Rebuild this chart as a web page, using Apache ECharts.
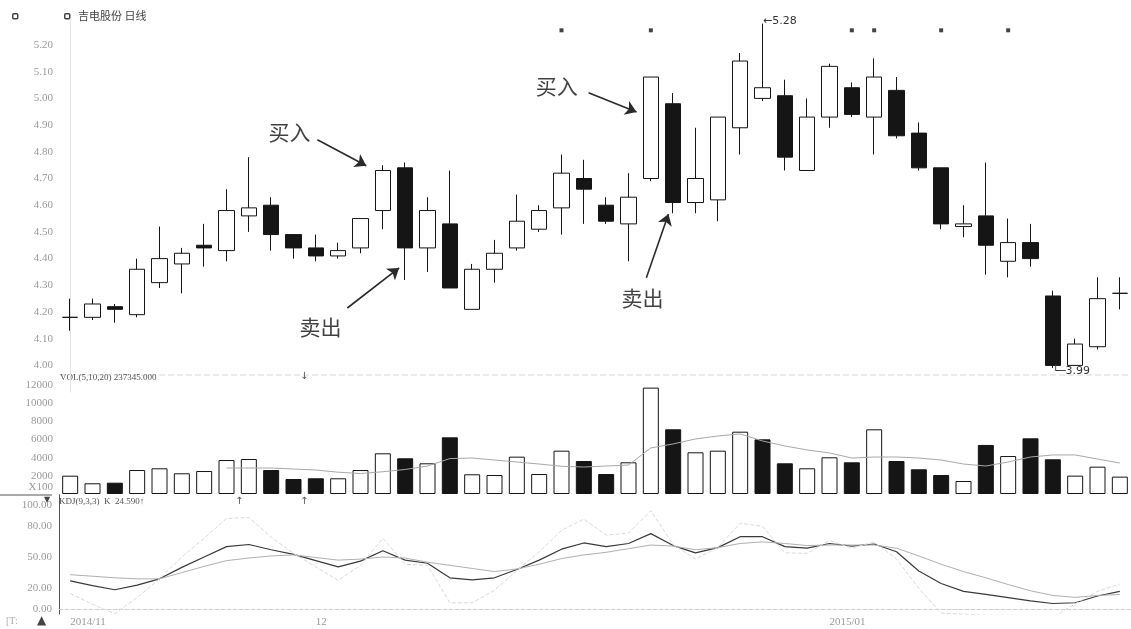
<!DOCTYPE html>
<html>
<head>
<meta charset="utf-8">
<style>
  html, body { margin: 0; padding: 0; background: #fff; }
  #chart { width: 1131px; height: 629px; }
</style>
<script src="https://cdn.jsdelivr.net/npm/echarts@6/dist/echarts.min.js"></script>
</head>
<body>
<div id="chart"></div>
<script>
// 交易日
const dates = [
  '2014-11-14', '2014-11-17', '2014-11-18', '2014-11-19', '2014-11-20', '2014-11-21',
  '2014-11-24', '2014-11-25', '2014-11-26', '2014-11-27', '2014-11-28',
  '2014-12-01', '2014-12-02', '2014-12-03', '2014-12-04', '2014-12-05',
  '2014-12-08', '2014-12-09', '2014-12-10', '2014-12-11', '2014-12-12',
  '2014-12-15', '2014-12-16', '2014-12-17', '2014-12-18', '2014-12-19',
  '2014-12-22', '2014-12-23', '2014-12-24', '2014-12-25', '2014-12-26',
  '2014-12-29', '2014-12-30', '2014-12-31',
  '2015-01-05', '2015-01-06', '2015-01-07', '2015-01-08', '2015-01-09',
  '2015-01-12', '2015-01-13', '2015-01-14', '2015-01-15', '2015-01-16',
  '2015-01-19', '2015-01-20', '2015-01-21', '2015-01-22'
];

// 日线 OHLC
const opens = [4.18, 4.18, 4.22, 4.19, 4.31, 4.38, 4.45, 4.43, 4.56, 4.60, 4.49, 4.44,
  4.41, 4.44, 4.58, 4.74, 4.44, 4.53, 4.21, 4.36, 4.44, 4.51, 4.59, 4.70,
  4.60, 4.53, 4.70, 4.98, 4.61, 4.62, 4.89, 5.00, 5.01, 4.73, 4.93, 5.04,
  4.93, 5.03, 4.87, 4.74, 4.52, 4.56, 4.39, 4.46, 4.26, 4.00, 4.07, 4.27];
const closes = [4.18, 4.23, 4.21, 4.36, 4.40, 4.42, 4.44, 4.58, 4.59, 4.49, 4.44, 4.41,
  4.43, 4.55, 4.73, 4.44, 4.58, 4.29, 4.36, 4.42, 4.54, 4.58, 4.72, 4.66,
  4.54, 4.63, 5.08, 4.61, 4.70, 4.93, 5.14, 5.04, 4.78, 4.93, 5.12, 4.94,
  5.08, 4.86, 4.74, 4.53, 4.53, 4.45, 4.46, 4.40, 4.00, 4.08, 4.25, 4.27];
const lows = [4.13, 4.17, 4.16, 4.18, 4.29, 4.27, 4.37, 4.39, 4.50, 4.43, 4.40, 4.39,
  4.40, 4.42, 4.51, 4.32, 4.35, 4.29, 4.21, 4.31, 4.43, 4.50, 4.49, 4.53,
  4.53, 4.39, 4.69, 4.57, 4.57, 4.54, 4.79, 4.99, 4.73, 4.73, 4.89, 4.93,
  4.79, 4.85, 4.73, 4.51, 4.48, 4.34, 4.33, 4.37, 3.99, 4.00, 4.06, 4.21];
const highs = [4.25, 4.25, 4.23, 4.40, 4.52, 4.44, 4.53, 4.66, 4.78, 4.63, 4.49, 4.49,
  4.46, 4.55, 4.75, 4.76, 4.63, 4.73, 4.38, 4.47, 4.64, 4.60, 4.79, 4.77,
  4.63, 4.72, 5.08, 5.02, 4.89, 4.93, 5.17, 5.28, 5.07, 5.00, 5.13, 5.06,
  5.15, 5.08, 4.91, 4.74, 4.60, 4.76, 4.55, 4.53, 4.28, 4.10, 4.33, 4.33];

// 成交量 (手 x100) 及 5 日均量
const volumes = [2015, 1180, 1245, 2640, 2830, 2280, 2530, 3740, 3850, 2640, 1650, 1730,
  1730, 2640, 4480, 3930, 3380, 6240, 2170, 2090, 4110, 2200, 4770, 3630,
  2200, 3490, 11710, 7120, 4590, 4770, 6860, 6020, 3380, 2830, 4040, 3490,
  7120, 3630, 2720, 2090, 1430, 5400, 4180, 6130, 3820, 2020, 3010, 1910];
const volMa5 = ['-', '-', '-', '-', '-', '-', '-', 2860, 2860, 2860, 2750, 2640,
  2400, 2250, 2450, 2700, 3080, 3900, 3960, 3740, 3520, 3300, 3050, 2970,
  3080, 3190, 5070, 5510, 6060, 6390, 6610, 5840, 5290, 4850, 4520, 3960,
  4070, 4070, 3960, 3740, 3300, 3080, 3520, 4070, 4300, 4300, 3850, 3410];

// KDJ(9,3,3)
const kLine = [27, 22.5, 18.5, 23, 29, 40, 50, 60, 62, 57, 52.5, 46.5,
  40.5, 46, 56, 47, 44, 30, 28, 30, 38, 47, 57.5, 63.5,
  60, 63, 72.5, 61, 54, 59, 69.5, 69.5, 60, 58.5, 63, 60.5,
  62.5, 55, 36.5, 24.5, 17, 14, 11, 7.8, 5.3, 6, 12.5, 17];
const dLine = [33, 31.5, 30, 29, 29, 35, 41, 46.5, 49, 51, 52, 49.5,
  47, 48, 50, 49, 45, 42, 39, 36, 38.5, 43, 48.5, 52,
  54.5, 58, 61.5, 60.5, 57, 59, 63, 64.5, 63, 61, 61.5, 61.5,
  61.5, 58.5, 51, 43, 36, 30, 23.5, 17.5, 13, 11.2, 13, 14];
const jLine = [15, 4.5, -4.5, 11, 29, 50, 68, 87, 88, 69, 53.5, 40.5,
  27.5, 42, 68, 43, 42, 6, 6, 18, 37, 55, 75.5, 86.5,
  71, 73, 94.5, 62, 48, 59, 82.5, 79.5, 54, 53.5, 66, 58.5,
  64.5, 48, 20, -4, -5, -6, -6, -8, -8, 5, 17, 24];

// 坐标轴刻度
const priceTicks = [4.0, 4.1, 4.2, 4.3, 4.4, 4.5, 4.6, 4.7, 4.8, 4.9, 5.0, 5.1, 5.2];
const kdjTicks = [0, 20, 50, 80, 100];
const monthStarts = ['2014-11-14', '2014-12-01', '2015-01-05'];
const monthLabels = ['2014/11', '12', '2015/01'];

// 顶部信息标记所在 K 线
const markIdx = [22, 26, 35, 36, 39, 42];

// 文字标注 (x 为 K 线序号)
const noteText = ['买入', '卖出', '买入', '卖出'];
const notePos = [[9.82, 4.874], [11.21, 4.144], [21.79, 5.047], [25.63, 4.253]];
const arrowFrom = [[11.07, 4.845], [12.41, 4.215], [23.21, 5.021], [25.8, 4.328]];
const arrowTo = [[13.26, 4.748], [14.73, 4.365], [25.36, 4.949], [26.79, 4.567]];

const INK = '#151515';
const LABEL = '#9a9a9a';
const NUMFONT = 'Liberation Serif';

const kData = opens.map((o, i) => [o, closes[i], lows[i], highs[i]]);
const volData = volumes.map((v, i) => {
  const up = i === 0 || closes[i] >= closes[i - 1];
  return { value: v, itemStyle: { color: up ? '#fff' : INK, borderColor: INK, borderWidth: 1 } };
});
const maxI = highs.indexOf(Math.max(...highs));
const minI = lows.indexOf(Math.min(...lows));

const gridL = 59, gridW = 1075;

const option = {
  animation: false,
  backgroundColor: '#fff',
  grid: [
    { left: gridL, width: gridW, top: 18.3, height: 373.8 },
    { left: gridL, width: gridW, top: 385, height: 109 },
    { left: gridL, width: gridW, top: 494.6, height: 119.6 }
  ],
  xAxis: [
    { type: 'category', gridIndex: 0, data: dates, show: false },
    { type: 'category', gridIndex: 1, data: dates, show: false },
    {
      type: 'category', gridIndex: 2, data: dates,
      axisLine: { lineStyle: { color: '#cfcfcf', type: 'dashed' } },
      axisTick: { show: false },
      axisLabel: {
        interval: 0, align: 'left', margin: 2, color: LABEL, fontSize: 11, fontFamily: NUMFONT,
        formatter: v => {
          const k = monthStarts.indexOf(v);
          return k < 0 ? '' : monthLabels[k];
        }
      }
    },
    // 标注用的隐藏数值轴，与类目中心对齐
    { type: 'value', gridIndex: 0, min: -0.5, max: 47.5, show: false }
  ],
  yAxis: [
    {
      type: 'value', gridIndex: 0, min: 3.9, max: 5.3, interval: 0.1,
      splitLine: { show: false },
      axisTick: { show: false },
      axisLine: { show: true, lineStyle: { color: '#e4e4e4' } },
      axisLabel: {
        margin: 6, color: LABEL, fontSize: 11, fontFamily: NUMFONT,
        formatter: v => priceTicks.some(t => Math.abs(t - v) < 0.001) ? v.toFixed(2) : ''
      }
    },
    {
      type: 'value', gridIndex: 1, min: 0, max: 12000, interval: 2000,
      splitLine: { show: false },
      axisTick: { show: false },
      axisLine: { show: false },
      axisLabel: {
        margin: 6, color: LABEL, fontSize: 11, fontFamily: NUMFONT,
        formatter: v => v === 0 ? '{u|X100}' : String(v),
        rich: { u: { color: LABEL, fontSize: 11, fontFamily: NUMFONT, padding: [0, 0, 14, 0] } }
      }
    },
    {
      type: 'value', gridIndex: 2, min: -5, max: 110, interval: 5,
      splitLine: { show: false },
      axisTick: { show: false },
      axisLine: { show: true, lineStyle: { color: '#555' } },
      axisLabel: {
        margin: 7, color: LABEL, fontSize: 11, fontFamily: NUMFONT,
        formatter: v => kdjTicks.indexOf(v) >= 0 ? v.toFixed(2) : ''
      }
    }
  ],
  series: [
    {
      name: 'K线', type: 'candlestick', xAxisIndex: 0, yAxisIndex: 0,
      data: kData, barWidth: 16,
      itemStyle: { color: '#fff', color0: INK, borderColor: INK, borderColor0: INK, borderWidth: 1 },
      markPoint: {
        symbol: 'circle', symbolSize: 1, itemStyle: { color: 'transparent' },
        data: [
          {
            coord: [maxI, highs[maxI]],
            label: { show: true, position: [1, -7], formatter: '←' + highs[maxI].toFixed(2), color: '#333', fontSize: 11, fontFamily: 'DejaVu Sans' }
          },
          {
            coord: [minI, lows[minI]],
            label: { show: true, position: [0, -2], formatter: '└─' + lows[minI].toFixed(2), color: '#333', fontSize: 11, fontFamily: 'DejaVu Sans' }
          }
        ]
      }
    },
    {
      name: '标记', type: 'scatter', xAxisIndex: 0, yAxisIndex: 0,
      data: markIdx.map(i => [i, 5.255]),
      symbol: 'rect', symbolSize: 4, itemStyle: { color: INK }
    },
    {
      name: '箭头', type: 'lines', coordinateSystem: 'cartesian2d', xAxisIndex: 3, yAxisIndex: 0,
      data: arrowFrom.map((p, i) => ({ coords: [p, arrowTo[i]] })),
      symbol: ['none', 'arrow'], symbolSize: 11,
      lineStyle: { color: '#2a2a2a', width: 1.6, opacity: 1 }
    },
    {
      name: '标注', type: 'scatter', xAxisIndex: 3, yAxisIndex: 0,
      data: notePos.map((p, i) => ({ value: p, name: noteText[i] })),
      symbolSize: 1, itemStyle: { color: 'transparent' },
      label: {
        show: true, position: 'inside', formatter: '{b}',
        color: '#111', fontSize: 21, fontFamily: 'Noto Sans CJK SC'
      }
    },
    {
      name: 'VOL', type: 'bar', xAxisIndex: 1, yAxisIndex: 1,
      data: volData, barWidth: 16
    },
    {
      name: 'MA5', type: 'line', xAxisIndex: 1, yAxisIndex: 1,
      data: volMa5, symbol: 'none', lineStyle: { color: '#a8a8a8', width: 1 }, z: 5
    },
    {
      name: 'K', type: 'line', xAxisIndex: 2, yAxisIndex: 2,
      data: kLine, symbol: 'none', lineStyle: { color: '#3a3a3a', width: 1.2 }
    },
    {
      name: 'D', type: 'line', xAxisIndex: 2, yAxisIndex: 2,
      data: dLine, symbol: 'none', lineStyle: { color: '#b0b0b0', width: 1 }
    },
    {
      name: 'J', type: 'line', xAxisIndex: 2, yAxisIndex: 2,
      data: jLine, symbol: 'none', lineStyle: { color: '#d8d8d8', width: 1, type: 'dashed' }
    }
  ],
  graphic: [
    { type: 'rect', left: 12, top: 13, shape: { width: 5, height: 5, r: 1 }, style: { fill: '#fff', stroke: '#444', lineWidth: 1.5 } },
    { type: 'rect', left: 64, top: 13, shape: { width: 5, height: 5, r: 1 }, style: { fill: '#fff', stroke: '#444', lineWidth: 1.5 } },
    { type: 'text', left: 78, top: 10, style: { text: '吉电股份 日线', fill: '#444', font: '11px "Noto Sans CJK SC"' } },
    { type: 'line', shape: { x1: 60, y1: 375, x2: 1131, y2: 375 }, style: { stroke: '#d8d8d8', lineWidth: 1, lineDash: [6, 3] } },
    { type: 'text', left: 60, top: 373, style: { text: 'VOL(5,10,20) 237345.000', fill: '#555', font: '9px "Liberation Serif"' } },
    { type: 'text', left: 300, top: 371, style: { text: '↓', fill: '#555', font: '10px "DejaVu Sans"' } },
    { type: 'line', shape: { x1: 0, y1: 495, x2: 52, y2: 495 }, style: { stroke: '#555', lineWidth: 1 } },
    { type: 'text', left: 44, top: 496, style: { text: '▼', fill: '#444', font: '8px "DejaVu Sans"' } },
    { type: 'text', left: 59, top: 497, style: { text: 'KDJ(9,3,3)  K  24.590↑', fill: '#555', font: '9px "Liberation Serif"' } },
    { type: 'text', left: 235, top: 496, style: { text: '↑', fill: '#555', font: '10px "DejaVu Sans"' } },
    { type: 'text', left: 300, top: 496, style: { text: '↑', fill: '#555', font: '10px "DejaVu Sans"' } },
    { type: 'text', left: 6, top: 616, style: { text: '[T:', fill: '#aaa', font: '10px "Liberation Serif"' } },
    { type: 'text', left: 37, top: 615, style: { text: '▲', fill: '#444', font: '12px "DejaVu Sans"' } }
  ]
};

const chart = echarts.init(document.getElementById('chart'), null, { renderer: 'canvas' });
chart.setOption(option);
</script>
</body>
</html>
